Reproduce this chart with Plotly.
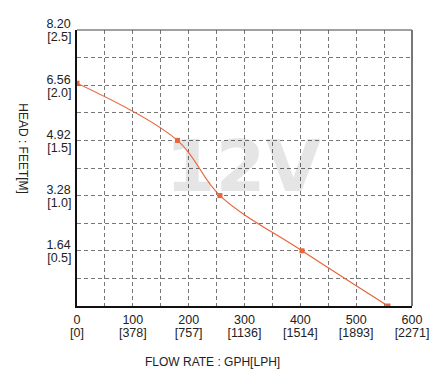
import plotly.graph_objects as go

flow_gph = [0, 180, 256, 403, 557]
head_ft = [6.62, 4.92, 3.28, 1.64, 0.0]

x_tick_vals = [0, 100, 200, 300, 400, 500, 600]
x_tick_gph = ["0", "100", "200", "300", "400", "500", "600"]
x_tick_lph = ["[0]", "[378]", "[757]", "[1136]", "[1514]", "[1893]", "[2271]"]
y_tick_vals = [1.64, 3.28, 4.92, 6.56, 8.20]
y_tick_ft = ["1.64", "3.28", "4.92", "6.56", "8.20"]
y_tick_m = ["[0.5]", "[1.0]", "[1.5]", "[2.0]", "[2.5]"]

watermark = "12V"
line_color = "#e8643a"
font = "Liberation Sans, Arial, sans-serif"
tick_font = dict(family=font, size=12.5, color="#222")

fig = go.Figure()
fig.add_trace(go.Scatter(
    x=[298], y=[3.95], mode="text", text=[watermark],
    textposition="middle center",
    textfont=dict(family="DejaVu Sans", size=72, color="rgba(0,0,0,0.1)", weight="bold"),
    hoverinfo="skip", showlegend=False))
fig.add_trace(go.Scatter(
    x=flow_gph, y=head_ft, mode="lines+markers",
    line=dict(color=line_color, width=1.2, shape="spline", smoothing=1.0),
    marker=dict(color=line_color, size=5, symbol="square"),
    showlegend=False))
# invisible helper trace so the secondary (bracket-label) axes are drawn
fig.add_trace(go.Scatter(x=[None], y=[None], xaxis="x2", yaxis="y2",
                         mode="markers", showlegend=False, hoverinfo="skip"))

common_grid = dict(gridcolor="#777", gridwidth=1, griddash="4px,3px", showgrid=True)

fig.update_layout(
    width=448, height=386,
    margin=dict(l=77, r=36, t=30, b=80),
    paper_bgcolor="white", plot_bgcolor="white",
    font=dict(family=font, size=12.5, color="#222"),
    xaxis=dict(range=[0, 600], tickmode="array", tickvals=x_tick_vals, ticktext=x_tick_gph,
               showgrid=False, zeroline=False, automargin=False,
               showline=True, linecolor="#111", linewidth=1.5, mirror=False,
               ticks="outside", ticklen=1, tickcolor="rgba(0,0,0,0)", tickfont=tick_font,
               minor=dict(dtick=50, tick0=0, **common_grid)),
    xaxis2=dict(range=[0, 600], overlaying="x", anchor="y", side="bottom",
                tickmode="array", tickvals=x_tick_vals, ticktext=x_tick_lph,
                showgrid=False, zeroline=False, automargin=False, showline=False,
                ticks="outside", ticklen=1, tickcolor="rgba(0,0,0,0)", tickfont=tick_font,
                ticklabelstandoff=14),
    yaxis=dict(range=[0, 8.2], tickmode="array", tickvals=y_tick_vals, ticktext=y_tick_ft,
               showgrid=False, zeroline=False, automargin=False,
               showline=True, linecolor="#111", linewidth=1.5, mirror=False,
               ticks="outside", ticklen=2, tickcolor="rgba(0,0,0,0)", tickfont=tick_font,
               ticklabelshift=-6,
               minor=dict(dtick=0.82, tick0=0, **common_grid)),
    yaxis2=dict(range=[0, 8.2], overlaying="y", anchor="x", side="left",
                tickmode="array", tickvals=y_tick_vals, ticktext=y_tick_m,
                showgrid=False, zeroline=False, automargin=False, showline=False,
                ticks="outside", ticklen=2, tickcolor="rgba(0,0,0,0)", tickfont=tick_font,
                ticklabelshift=7),
    shapes=[
        dict(type="line", xref="paper", yref="paper", x0=0, x1=1, y0=1, y1=1,
             line=dict(color="#444", width=1.2)),
        dict(type="line", xref="paper", yref="paper", x0=1, x1=1, y0=0, y1=1,
             line=dict(color="#777", width=2)),
    ],
    annotations=[
        dict(text="HEAD : FEET[M]", xref="paper", yref="paper", x=-0.16, y=0.57,
             textangle=90, showarrow=False, font=dict(size=12, color="#222"),
             xanchor="center", yanchor="middle"),
        dict(text="FLOW RATE : GPH[LPH]", xref="paper", yref="paper", x=0.403, y=-0.203,
             showarrow=False, font=dict(size=12, color="#222"),
             xanchor="center", yanchor="middle"),
    ],
)

fig.write_html("out.html", config={"displayModeBar": False},
               post_script="document.body.style.margin='0';")
